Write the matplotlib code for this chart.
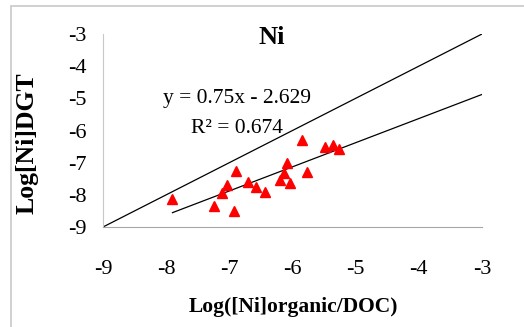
import matplotlib.pyplot as plt
from matplotlib.patches import Rectangle

# log([Ni]organic/DOC) vs log[Ni]DGT
x_org = [-7.90, -7.24, -6.92, -7.11, -7.04, -6.89, -6.70, -6.58, -6.43,
         -6.20, -6.13, -6.08, -6.04, -5.85, -5.77, -5.48, -5.36, -5.27]
y_dgt = [-8.14, -8.34, -8.49, -7.95, -7.70, -7.25, -7.59, -7.77, -7.92,
         -7.54, -7.31, -7.02, -7.64, -6.30, -7.30, -6.51, -6.45, -6.56]

slope, intercept = 0.75, -2.629
fit_x = [-7.9, -3.0]
one_to_one = [-9, -3]
ticks = [-9, -8, -7, -6, -5, -4, -3]

plt.rcParams["font.family"] = ["Liberation Serif", "DejaVu Serif"]
plt.rcParams["axes.unicode_minus"] = False

fig = plt.figure(figsize=(5.24, 3.27), dpi=100)
fig.patches.append(Rectangle((11 / 524, -0.1), 1.2, 1 - 6 / 327 + 0.1,
                             transform=fig.transFigure, fill=False,
                             edgecolor="#c8c8c8", linewidth=1.2))

ax = fig.add_axes([103 / 524, 1 - 227 / 327, 379 / 524, 193 / 327])

ax.plot(one_to_one, one_to_one, color="black", linewidth=0.9)
ax.plot(fit_x, [slope * v + intercept for v in fit_x], color="black", linewidth=0.9)
ax.plot(x_org, y_dgt, linestyle="none", marker="^", color="red", markersize=7)

ax.set_xlim(-9, -3)
ax.set_ylim(-9, -3)
ax.set_xticks(ticks)
ax.set_yticks(ticks)
ax.tick_params(axis="both", length=0, labelsize=16)
ax.tick_params(axis="x", pad=24)
ax.tick_params(axis="y", pad=12)
for s in ["top", "right"]:
    ax.spines[s].set_visible(False)
ax.spines["bottom"].set_color("#a6a6a6")
ax.spines["left"].set_color("#c8c8c8")

ax.text(-6.88, -5.0, "y = 0.75x - 2.629", fontsize=15.5, ha="center", va="center")
ax.text(-6.88, -5.93, "R² = 0.674", fontsize=15.5, ha="center", va="center")

fig.text(272 / 524, 1 - 37 / 327, "Ni", fontsize=19, fontweight="bold",
         ha="center", va="center")
fig.text(27 / 524, 1 - 143 / 327, "Log[Ni]DGT", fontsize=18.5, fontweight="bold",
         rotation=90, ha="center", va="center")
fig.text(293 / 524, 1 - 307 / 327, "Log([Ni]organic/DOC)", fontsize=15.5,
         fontweight="bold", ha="center", va="center")

fig.savefig("out.png", dpi=100)
